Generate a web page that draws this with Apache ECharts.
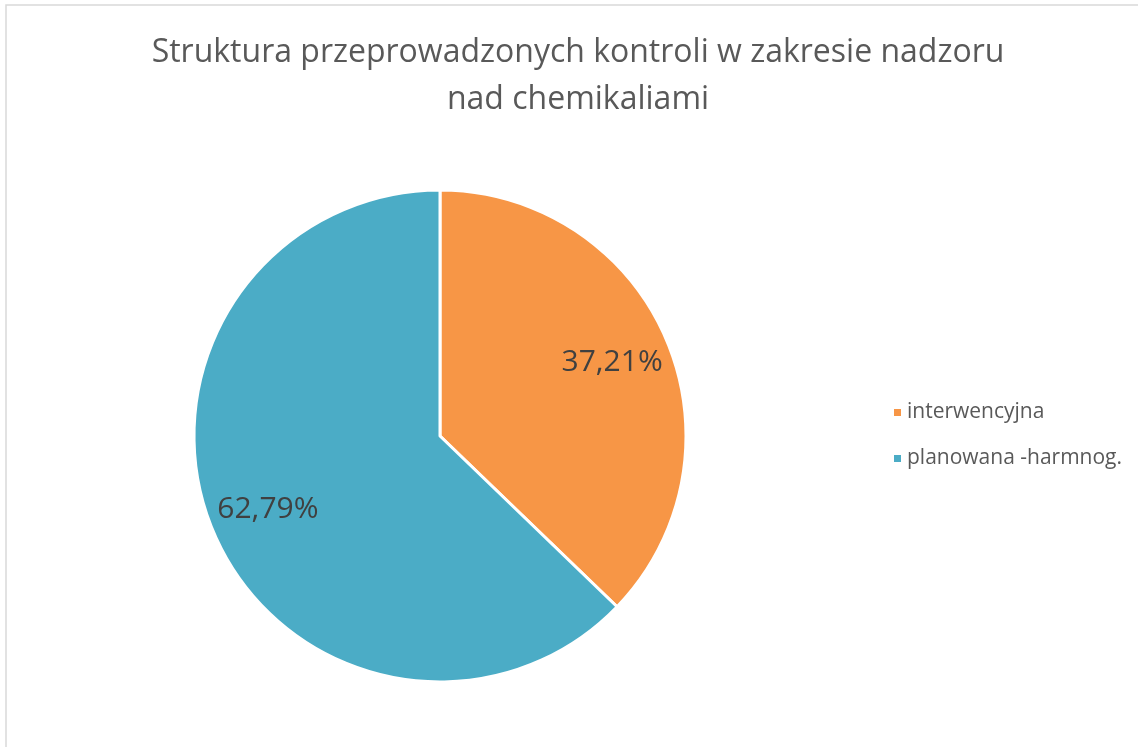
<!DOCTYPE html>
<html><head><meta charset="utf-8">
<script src="https://cdn.jsdelivr.net/npm/echarts@6/dist/echarts.min.js"></script>
<style>html,body{margin:0;padding:0;background:#fff}#c{width:1138px;height:747px}</style>
</head><body><div id="c"></div>
<script>
const titleText = 'Struktura przeprowadzonych kontroli w zakresie nadzoru\nnad chemikaliami';
const categories = ['interwencyjna', 'planowana -harmnog.'];
const values = [37.21, 62.79];
const colors = ['#F79646', '#4BACC6'];

const pieData = categories.map((n, i) => ({name: n, value: values[i], itemStyle: {color: colors[i]}}));
const chart = echarts.init(document.getElementById('c'));
chart.setOption({
  backgroundColor: '#fff',
  animation: false,
  graphic: [{
    type: 'rect', shape: {x: 6, y: 5, width: 1200, height: 800},
    style: {fill: 'none', stroke: '#d9d9d9', lineWidth: 1.5}
  }],
  title: {
    text: titleText, left: 573, top: 24, textAlign: 'center',
    textStyle: {fontFamily: 'Open Sans', fontWeight: 'normal', fontSize: 32, color: '#595959', lineHeight: 47}
  },
  legend: {
    orient: 'vertical', left: 887, top: 397, itemGap: 25,
    itemWidth: 9, itemHeight: 9, icon: 'rect',
    textStyle: {fontFamily: 'Open Sans', fontSize: 21, color: '#595959'},
    data: categories
  },
  series: [{
    type: 'pie', center: [440, 436], radius: 246, startAngle: 90, clockwise: true,
    itemStyle: {borderColor: '#fff', borderWidth: 3},
    label: {show: false}, labelLine: {show: false},
    data: pieData
  }, {
    type: 'pie', center: [440, 436], radius: 368, startAngle: 90, clockwise: true, silent: true,
    itemStyle: {color: 'rgba(0,0,0,0)', borderWidth: 0},
    label: {
      position: 'inside', fontFamily: 'Open Sans', fontSize: 30, color: '#404040',
      formatter: p => p.value.toFixed(2).replace('.', ',') + '%'
    },
    labelLine: {show: false},
    data: categories.map((n, i) => ({name: n, value: values[i], itemStyle: {color: 'rgba(0,0,0,0)'}}))
  }]
});
</script></body></html>
